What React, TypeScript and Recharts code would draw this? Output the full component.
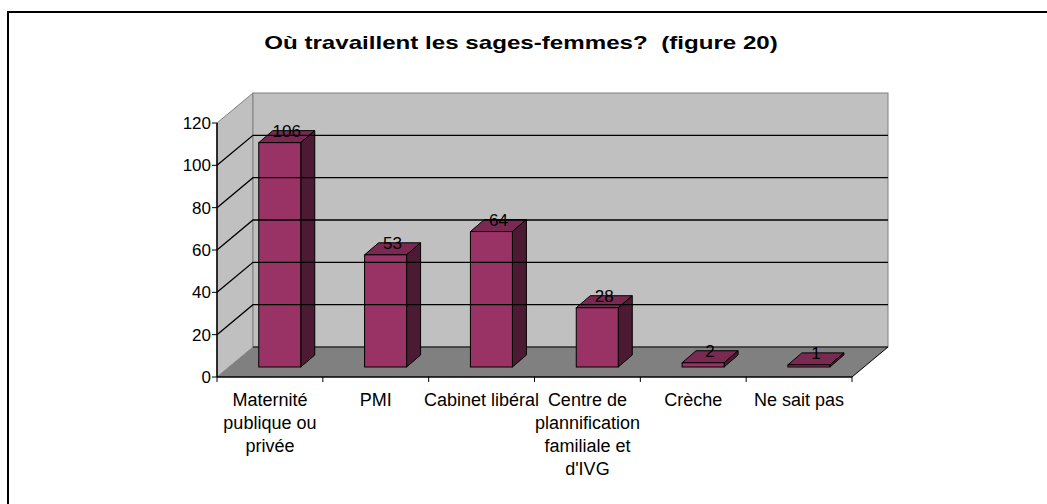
import { BarChart, Bar, XAxis, YAxis, ReferenceArea, ReferenceLine, LabelList } from 'recharts';

// Où travaillent les sages-femmes? (figure 20)
const categories = [
  'Maternité publique ou privée',
  'PMI',
  'Cabinet libéral',
  "Centre de plannification familiale et d'IVG",
  'Crèche',
  'Ne sait pas',
];
const categoryLines = [
  ['Maternité', 'publique ou', 'privée'],
  ['PMI'],
  ['Cabinet libéral'],
  ['Centre de', 'plannification', 'familiale et', "d'IVG"],
  ['Crèche'],
  ['Ne sait pas'],
];
const counts = [106, 53, 64, 28, 2, 1];
const yTicks = [0, 20, 40, 60, 80, 100, 120];
// inner gridlines on the walls (the 0 and 120 edges are the wall borders)
const gridValues = yTicks.slice(1, -1);

const data = categories.map((name, i) => ({ name, value: counts[i] }));

const FONT = 'Arial, "Liberation Sans", sans-serif';

// fake 3D: depth of the floor / walls and of the bars
const DX = 36;
const DY = 30;
const BAR_SHIFT_X = 10;
const BAR_SHIFT_Y = 10;
const BAR_DX = 14;
const BAR_DY = 12;

const Walls = (p: any) => {
  const { x, y, width: w, height: h } = p;
  const yb = y + h;
  return (
    <g>
      <polygon points={`${x},${yb} ${x + w},${yb} ${x + w + DX},${yb - DY} ${x + DX},${yb - DY}`} fill="#808080" />
      <polygon points={`${x},${y} ${x + DX},${y - DY} ${x + DX},${yb - DY} ${x},${yb}`} fill="#c0c0c0" stroke="#808080" />
      <rect x={x + DX} y={y - DY} width={w} height={h} fill="#c0c0c0" stroke="#808080" />
      <line x1={x + DX} y1={yb - DY} x2={x + w + DX} y2={yb - DY} stroke="#000" />
      <line x1={x + w} y1={yb} x2={x + w + DX} y2={yb - DY} stroke="#000" />
    </g>
  );
};

const WallGridLine = (p: any) => {
  const { x1, x2, y1 } = p;
  return (
    <polyline
      points={`${x1},${y1} ${x1 + DX},${y1 - DY} ${x2 + DX},${y1 - DY}`}
      fill="none"
      stroke="#000"
      strokeWidth={1.3}
    />
  );
};

const Bar3D = (p: any) => {
  const { x, y, width: w, height: h } = p;
  const fx = x + BAR_SHIFT_X;
  const fy = y - BAR_SHIFT_Y;
  return (
    <g stroke="#000" strokeWidth={1}>
      <polygon points={`${fx},${fy} ${fx + BAR_DX},${fy - BAR_DY} ${fx + w + BAR_DX},${fy - BAR_DY} ${fx + w},${fy}`} fill="#7a2a52" />
      <polygon points={`${fx + w},${fy} ${fx + w + BAR_DX},${fy - BAR_DY} ${fx + w + BAR_DX},${fy + h - BAR_DY} ${fx + w},${fy + h}`} fill="#4d1a33" />
      <rect x={fx} y={fy} width={w} height={h} fill="#993366" />
    </g>
  );
};

const TopLabel = (p: any) => {
  const vb = p.viewBox || {};
  const x = p.x ?? vb.x;
  const y = p.y ?? vb.y;
  const w = p.width ?? vb.width;
  return (
    <text
      x={x + BAR_SHIFT_X + w / 2 + BAR_DX / 2}
      y={y - BAR_SHIFT_Y - 5.5}
      textAnchor="middle"
      fontSize={17}
      fontFamily={FONT}
      fill="#000"
    >
      {p.value}
    </text>
  );
};

const CategoryTick = (p: any) => {
  const { x, y, payload } = p;
  const half = payload.offset || 52.9;
  const i = categories.indexOf(payload.value);
  const lines = categoryLines[i] || [payload.value];
  return (
    <g>
      <line x1={x - half} y1={y} x2={x - half} y2={y + 5} stroke="#000" />
      {i === categories.length - 1 && <line x1={x + half} y1={y} x2={x + half} y2={y + 5} stroke="#000" />}
      {lines.map((t, k) => (
        <text key={k} x={x} y={y + 28.5 + k * 23.3} textAnchor="middle" fontSize={18} fontFamily={FONT} fill="#000">
          {t}
        </text>
      ))}
    </g>
  );
};

const App = () => {
  return (
    <div style={{ position: 'fixed', left: 0, top: 0, width: 1047, height: 504, overflow: 'hidden', background: '#fff', fontFamily: FONT }}>
      <div style={{ position: 'absolute', left: 7, top: 11, width: 1100, height: 600, border: '2px solid #000' }} />
      <div
        style={{
          position: 'absolute',
          left: 0,
          top: 32,
          width: 1042,
          textAlign: 'center',
          fontWeight: 'bold',
          fontSize: 19,
          lineHeight: '22px',
          whiteSpace: 'pre',
          color: '#000',
          transform: 'scaleX(1.27)',
          transformOrigin: '521px 50%',
        }}
      >
        {'Où travaillent les sages-femmes?  (figure 20)'}
      </div>
      <div style={{ position: 'absolute', left: 0, top: 0 }}>
        <BarChart width={1047} height={504} data={data} margin={{ top: 123, right: 195, bottom: 27, left: 157 }} barCategoryGap="30%">
          <ReferenceArea y1={0} y2={120} shape={Walls} ifOverflow="visible" />
          {gridValues.map((v) => (
            <ReferenceLine key={v} y={v} shape={WallGridLine} ifOverflow="visible" />
          ))}
          <XAxis
            dataKey="name"
            height={100}
            interval={0}
            tickLine={false}
            tickSize={0}
            tickMargin={0}
            axisLine={{ stroke: '#000', strokeWidth: 1.5 }}
            tick={CategoryTick}
          />
          <YAxis
            width={60}
            domain={[0, 120]}
            ticks={yTicks}
            interval={0}
            tickSize={5}
            tickMargin={1}
            axisLine={{ stroke: '#000', strokeWidth: 1.5 }}
            tickLine={{ stroke: '#000' }}
            tick={{ fontSize: 17, fill: '#000', fontFamily: FONT }}
          />
          <Bar dataKey="value" shape={Bar3D} isAnimationActive={false}>
            <LabelList dataKey="value" content={TopLabel} />
          </Bar>
        </BarChart>
      </div>
    </div>
  );
};

export default App;
